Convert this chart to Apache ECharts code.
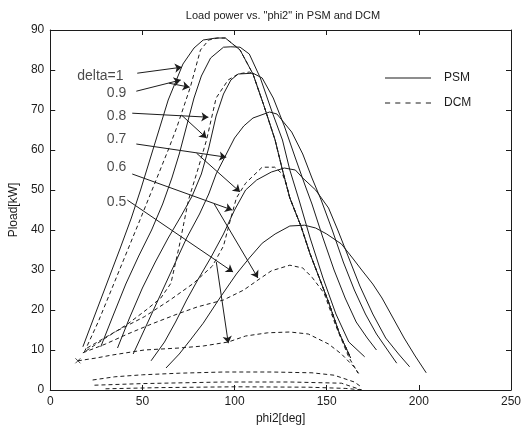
<!DOCTYPE html>
<html><head><meta charset="utf-8">
<script src="https://cdn.jsdelivr.net/npm/echarts@6/dist/echarts.min.js"></script>
<style>html,body{margin:0;padding:0;background:#fff}#c{width:528px;height:435px}</style>
</head><body><div id="c"></div>
<script>
// Axis ticks
const xTicks = [0, 50, 100, 150, 200, 250];
const yTicks = [0, 10, 20, 30, 40, 50, 60, 70, 80, 90];

// PSM curves (solid), [phi2, Pload]
const psm10 = [[17.7,10.8],[24,18.5],[31,27],[38,35.5],[44,43],[49,50],[54,57.5],[59,65],[64,72.5],[72,81.5],[78,85.5],[83,87.5],[90,88],[95,88],[103,85],[110,79],[116,71],[122,62.5],[126,55],[130,48],[136,41],[141,34],[151,22],[157,14],[163,8]];
const psm09 = [[27.4,10.8],[34,18.5],[41,26.5],[48,33.5],[55,40],[61,46.5],[66,53],[70,59],[74,66],[78,73],[82,78.5],[87,83],[94,85.7],[98,85.8],[103,85.7],[108,84],[114,78],[120,70],[126,62.5],[130,55],[135,47.5],[141,38],[148,28],[155,19],[162,12],[170.6,8.3]];
const psm08 = [[36.5,10.5],[43,18],[50,25.5],[57,32],[64,38],[71,43.5],[77,48.5],[82,54],[86,60.5],[90,68.5],[94,74],[98,77.5],[102,79],[110,79.2],[115,78],[121,73],[127,66],[133,58],[138,51.5],[142,46.5],[148,38],[154,30],[160,23],[166,17],[172,13],[177,10]];
const psm07 = [[45,9],[52,16],[60,24],[67,31],[74,38],[81,44],[86,49],[90,54],[95,58.5],[100,63],[105,66],[110,68],[119,69.5],[123,69],[131,64.5],[137,59],[142,53],[147,47.5],[153,40],[159,32],[165,25],[171,19],[177,14],[183,10],[188,6.7]];
const psm06 = [[54.7,7.3],[62,12],[68,17],[74,22.5],[80,27.5],[87,33],[94,39],[100,45],[106,50],[112,52.5],[120,54.5],[127,55.5],[133,55],[137,53],[144,50],[151,45.5],[156,40],[162,33],[168,26],[175,19],[182,13],[189,9],[195,5.8]];
const psm05 = [[62.8,5.5],[70,9],[76,12.5],[83,16.7],[92,23],[101,29],[108,33],[115,36.7],[122,39],[130,41],[138,41.2],[144,40.5],[150,39],[158,36.5],[164,33],[169,30],[175,26.5],[180,23],[186,18],[192,13],[198,8.5],[204,4.3]];

// DCM curves (dashed)
const dcm09 = [[18.5,9.5],[26,17],[34,26],[42,35],[50,44],[57,52],[64,60],[68.7,65.7],[76,75.7],[81.5,85],[86,87.5],[91,88],[95,88],[103,85],[110,79],[116,71],[122,62.5],[126,55],[130,48],[136,41],[141,34],[151,22],[157,14],[163,8]];
const dcm08 = [[19.5,9.8],[30,13],[42,16.5],[52,20],[60,23],[65.5,26.7],[70,36],[75,47.5],[80,55],[84.8,62.5],[90,73],[96.5,77.5],[102,79],[108,79.5],[110,79],[116,71],[122,62.5],[126,55],[130,48],[136,41],[141,34],[151,22],[157,14],[163,8]];
const dcm07 = [[20,10.5],[35,14.5],[51,18.3],[65,22.5],[77.8,26.7],[88,31],[94,36],[98,43],[101,48],[106,51.7],[115,55.7],[121.8,55.7],[126,54],[128,51.5],[130,48],[136,41],[141,34],[151,22],[157,14],[163,8]];
const dcm06 = [[17.7,9.3],[30,11.5],[42,14],[55,16.5],[69,19],[80,20.8],[94,22.5],[105,25],[112.7,27.5],[120,29.8],[130,31.2],[137,30.5],[142,28.2],[148.6,24.2],[155,16],[162,8.2],[167,4.2]];
const dcm05 = [[15,7.3],[25,8],[33,8.7],[51,10],[70,10.5],[83,11],[96.6,12],[106,13.5],[118,14.3],[130,14.5],[140,14],[151,11.5],[158,9],[165,5.7],[168,3.7]];
const dcmLow1 = [[23,2.5],[35,3.3],[50,3.8],[70,4.2],[94,4.5],[120,4.5],[142,4.3],[154,3.7],[165,2],[169,0.7]];
const dcmLow2 = [[24,1.2],[50,1.6],[94,2],[130,2],[158,1.7],[169,0]];
const dcmLow3 = [[30,0.3],[60,0.6],[100,0.8],[140,0.7],[160,0.4],[170,0]];

// Annotation labels and arrows (data coordinates)
const noteText = ['delta=1', '0.9', '0.8', '0.7', '0.6', '0.5'];
const noteX = [27.2, 36, 36, 36, 36, 36];
const noteY = [78.5, 74.2, 68.5, 62.7, 55.7, 47];
const arrows = [
  [47.2,79.2, 71.4,80.7],
  [46.7,74.7, 70.8,77.5], [64.4,76.7, 75.6,75.7],
  [44.5,69.2, 85.8,68.2], [71.3,68.7, 84.8,63],
  [46.7,61.5, 95.5,58.2], [79.4,59.2, 103,49.5],
  [44.5,54, 98.7,45], [89,46.5, 112.7,28],
  [41.8,47.5, 99.2,29.5], [90.1,32, 96.6,11.7]
];
const crossMark = [[15,7.3]];

const ink = '#1c1c1c';
const font = 'Liberation Sans, Arial, sans-serif';
function solid(d) { return {type:'line', name:'PSM', data:d, symbol:'none', lineStyle:{color:ink, width:1}, itemStyle:{color:ink}, z:3, animation:false}; }
function dashed(d) { return {type:'line', name:'DCM', data:d, symbol:'none', lineStyle:{color:ink, width:1, type:[4,3]}, itemStyle:{color:ink}, z:3, animation:false}; }

const series = [
  solid(psm10), solid(psm09), solid(psm08), solid(psm07), solid(psm06), solid(psm05),
  dashed(dcm09), dashed(dcm08), dashed(dcm07), dashed(dcm06), dashed(dcm05), dashed(dcmLow1), dashed(dcmLow2), dashed(dcmLow3),
  {type:'lines', coordinateSystem:'cartesian2d', symbol:['none','arrow'], symbolSize:7,
   lineStyle:{color:ink, width:1, opacity:1, curveness:0}, z:4, animation:false,
   data: arrows.map(a => ({coords:[[a[0],a[1]],[a[2],a[3]]]}))},
  {type:'scatter', symbolSize:0, z:5, animation:false,
   data: noteText.map((t,i) => ({value:[noteX[i], noteY[i]], name:t})),
   label:{show:true, position:[0,0], align:'center', verticalAlign:'middle', formatter:p=>p.name, color:ink, fontSize:14, fontFamily:font}},
  {type:'scatter', data:crossMark, symbol:'path://M0,0L10,10M10,0L0,10', symbolSize:5, itemStyle:{color:'none', borderColor:ink, borderWidth:1}, z:5, animation:false}
];

const solidIcon = 'path://M0,0H46V1H0Z';
const dashIcon = 'path://M0,0H5V1H0ZM10,0H15V1H10ZM20,0H25V1H20ZM30,0H35V1H30ZM40,0H45V1H40Z';

const chart = echarts.init(document.getElementById('c'), null, {renderer:'canvas'});
const axisCommon = {axisLine:{show:true, onZero:false, lineStyle:{color:ink, width:1}}, splitLine:{show:false}};
chart.setOption({
  backgroundColor:'#fff',
  animation:false,
  title:{text:'Load power vs. "phi2" in PSM and DCM', left:278, top:5, textAlign:'center',
         textStyle:{fontSize:11, fontWeight:'normal', color:ink, fontFamily:font}},
  legend:{data:[{name:'PSM', icon:solidIcon},{name:'DCM', icon:dashIcon}], orient:'vertical', left:380, top:67,
          itemWidth:46, itemHeight:1.2, itemGap:13, itemStyle:{color:ink},
          textStyle:{fontSize:12, color:ink, fontFamily:font, padding:[0,0,0,8]}},
  grid:{left:45, right:17, top:30, bottom:45},
  xAxis:[
    Object.assign({type:'value', min:xTicks[0], max:xTicks[xTicks.length-1], interval:50, position:'bottom',
      axisTick:{inside:true, length:5, lineStyle:{color:ink}},
      axisLabel:{color:ink, fontSize:12, fontFamily:font, margin:6},
      name:'phi2[deg]', nameLocation:'middle', nameGap:22, nameTextStyle:{color:ink, fontSize:12, fontFamily:font}}, axisCommon),
    Object.assign({type:'value', min:xTicks[0], max:xTicks[xTicks.length-1], interval:50, position:'top',
      axisTick:{inside:true, length:5, lineStyle:{color:ink}}, axisLabel:{show:false}}, axisCommon)
  ],
  yAxis:[
    Object.assign({type:'value', min:yTicks[0], max:yTicks[yTicks.length-1], interval:10, position:'left',
      axisTick:{inside:true, length:5, lineStyle:{color:ink}},
      axisLabel:{color:ink, fontSize:12, fontFamily:font, margin:6},
      name:'Pload[kW]', nameLocation:'middle', nameGap:28, nameTextStyle:{color:ink, fontSize:12, fontFamily:font}}, axisCommon),
    Object.assign({type:'value', min:yTicks[0], max:yTicks[yTicks.length-1], interval:10, position:'right',
      axisTick:{inside:true, length:5, lineStyle:{color:ink}}, axisLabel:{show:false}}, axisCommon)
  ],
  series: series
});
</script></body></html>
